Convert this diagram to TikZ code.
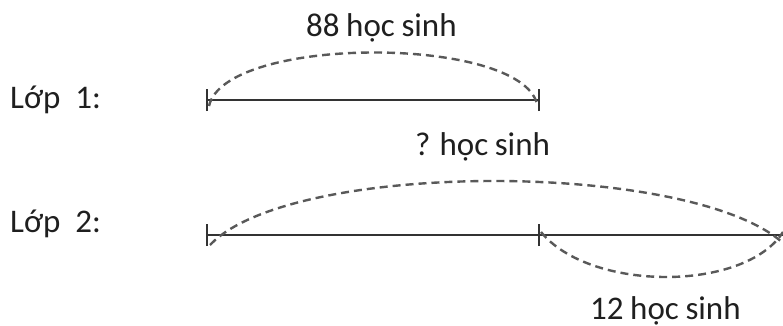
\documentclass[tikz,border=0pt]{standalone}
\usepackage{fontspec}
\setmainfont{Carlito}
\newcommand\mytightsp{\spaceskip=0.2em\relax}
\begin{document}
\begin{tikzpicture}[x=1pt,y=-1pt,
  lbl/.style={inner sep=0pt,anchor=base west,font=\fontsize{33}{36}\selectfont,text=black!88},
  seg/.style={line width=2.4pt,draw=black!80},
  tick/.style={line width=2pt,draw=black!80},
  arc/.style={line width=2.4pt,draw=black!65,dash pattern=on 8pt off 5pt}]
\useasboundingbox (0,0) rectangle (783,326);
% points
\coordinate (a1) at (207,100);
\coordinate (b1) at (539,100);
\coordinate (a2) at (207,235);
\coordinate (b2) at (539,235);
\coordinate (c2) at (783,235);
% labels
\node[lbl] (l1) at (10,109) {Lớp\hspace{0.45em}1:};
\node[lbl] (l2) at (10,232) {Lớp\hspace{0.45em}2:};
\node[lbl] (t88) at (306,37) {\mytightsp 88 học sinh};
\node[lbl] (tq) at (415,155) {\mytightsp ? học sinh};
\node[lbl] (t12) at (590,319) {\mytightsp 12 học sinh};
% segments
\draw[seg] (a1) -- (b1);
\draw[seg] (a2) -- (c2);
\foreach \p in {a1,b1,a2,b2}
  \draw[tick] ([yshift=-11pt]\p) -- ([yshift=11pt]\p);
% arcs
\begin{scope}
\clip (0,0) rectangle (783,326);
\draw[arc] ([xshift=2pt,yshift=-6pt]a1) .. controls (225,35) and (520,35) .. ([xshift=-2pt,yshift=-4pt]b1);
\draw[arc] ([xshift=3pt,yshift=-10pt]a2) .. controls (290,160) and (690,160) .. ([yshift=-8pt]c2);
\draw[arc] ([xshift=2pt,yshift=3pt]b2) .. controls (590,292) and (745,292) .. ([yshift=3pt]c2);
\end{scope}
\end{tikzpicture}
\end{document}
